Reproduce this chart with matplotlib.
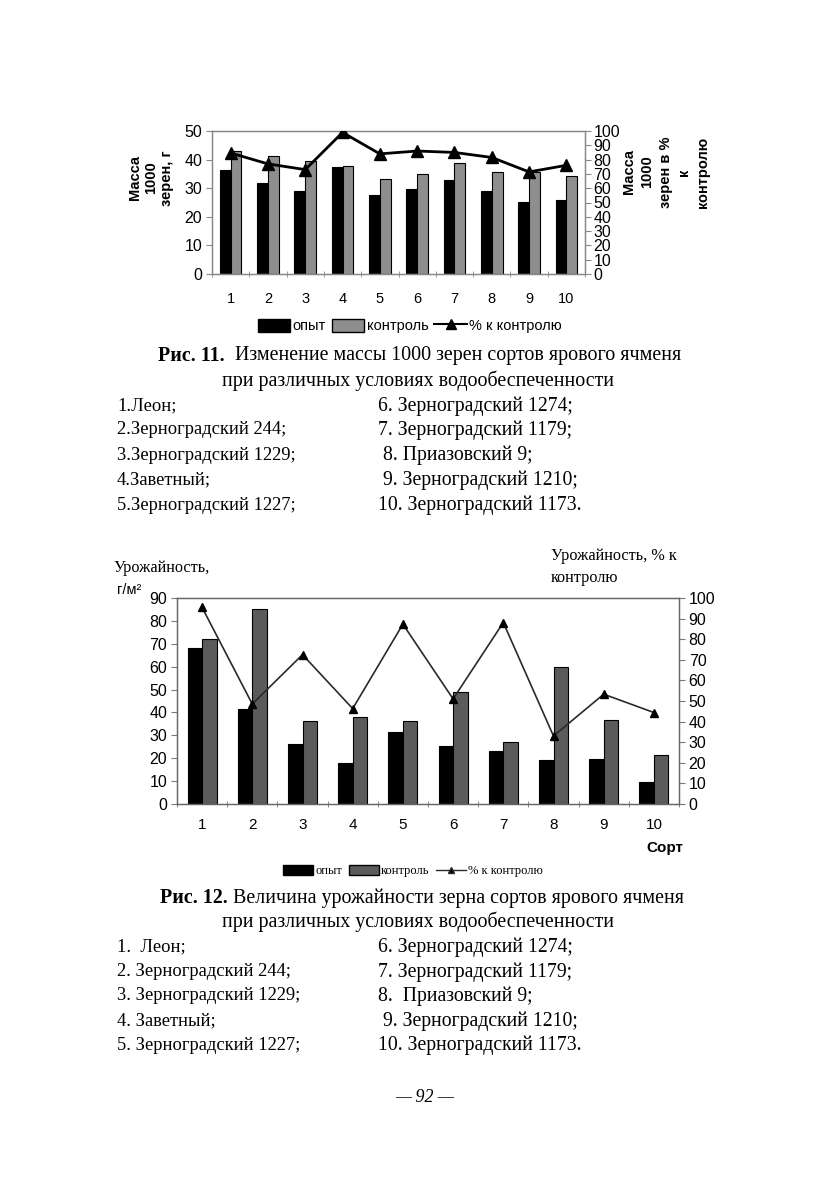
import numpy as np
import matplotlib.pyplot as plt
from matplotlib.lines import Line2D
from matplotlib.patches import Patch

W, H = 831, 1177

sorts = np.arange(1, 11)
tick_labels = [str(i) for i in sorts]

# Рис. 11 - масса 1000 зерен, г и % к контролю
mass_opyt = [36.2, 31.8, 29.0, 37.3, 27.5, 29.8, 32.8, 29.1, 25.3, 26.0]
mass_control = [42.9, 41.2, 39.6, 37.8, 33.2, 35.1, 38.9, 35.8, 35.7, 34.1]
mass_pct = [84.6, 77.0, 73.0, 99.0, 84.0, 86.0, 85.0, 81.5, 71.4, 76.0]

# Рис. 12 - урожайность, г/м2 и % к контролю
yield_opyt = [68.3, 41.3, 26.3, 17.9, 31.5, 25.3, 23.3, 19.3, 19.6, 9.5]
yield_control = [71.9, 85.3, 36.4, 37.8, 36.3, 49.0, 26.9, 59.7, 36.7, 21.2]
yield_pct = [95.4, 48.5, 72.5, 46.3, 87.3, 51.0, 88.1, 33.0, 53.3, 44.4]

list1_left = ["1.Леон;", "2.Зерноградский 244;", "3.Зерноградский 1229;",
              "4.Заветный;", "5.Зерноградский 1227;"]
list1_right = ["6. Зерноградский 1274;", "7. Зерноградский 1179;", " 8. Приазовский 9;",
               " 9. Зерноградский 1210;", "10. Зерноградский 1173."]
list2_left = ["1.  Леон;", "2. Зерноградский 244;", "3. Зерноградский 1229;",
              "4. Заветный;", "5. Зерноградский 1227;"]
list2_right = ["6. Зерноградский 1274;", "7. Зерноградский 1179;", "8.  Приазовский 9;",
               " 9. Зерноградский 1210;", "10. Зерноградский 1173."]

SANS = ['Liberation Sans', 'DejaVu Sans']
SERIF = ['Liberation Serif', 'DejaVu Serif']
plt.rcParams['font.family'] = SANS

CAP = 14.4   # caption size
LST_L = 13.3
LST_R = 14.2


def fx(x):
    return x / W


def fy(y):
    return 1 - y / H


def axes_px(fig, l, t, r, b):
    return fig.add_axes([l / W, 1 - b / H, (r - l) / W, (b - t) / H])


fig = plt.figure(figsize=(W / 100, H / 100), dpi=100)
bw = 0.29

# ---------- Рис. 11 ----------
ax1 = axes_px(fig, 212, 131, 585, 274)
ax1.bar(sorts - bw / 2, mass_opyt, bw, color='black', edgecolor='black', lw=0.8, zorder=2)
ax1.bar(sorts + bw / 2, mass_control, bw, color='#8e8e8e', edgecolor='black', lw=0.8, zorder=2)
ax1.set_xlim(0.5, 10.5)
ax1.set_ylim(0, 50)
ax1.set_yticks(range(0, 51, 10))
ax1.set_xticks(sorts)
ax1.set_xticklabels(tick_labels)
ax1.set_xticks(np.arange(0.5, 11, 1), minor=True)
ax1.tick_params(axis='x', which='major', length=0, pad=13, labelsize=10.5)
ax1.tick_params(axis='x', which='minor', length=5, direction='inout', color='#888888')
ax1.tick_params(axis='y', length=4, direction='out', color='#888888', labelsize=11.5, pad=3)
for s in ax1.spines.values():
    s.set_color('#888888')
    s.set_linewidth(1.0)

ax1r = ax1.twinx()
ax1r.plot(sorts, mass_pct, color='black', lw=2, marker='^', ms=8, zorder=3)
ax1r.set_ylim(0, 100)
ax1r.set_yticks(range(0, 101, 10))
ax1r.tick_params(axis='y', length=4, direction='out', color='#888888', labelsize=11.5, pad=2)
for s in ax1r.spines.values():
    s.set_color('#888888')

fig.text(fx(151), fy(178), "Масса\n1000\nзерен, г", rotation=90, ha='center', va='center',
         multialignment='center', fontsize=10.5, weight='bold', linespacing=1.15)
fig.text(fx(666), fy(172), "Масса\n1000\nзерен в %\nк\nконтролю", rotation=90, ha='center',
         va='center', multialignment='center', fontsize=10.5, weight='bold', linespacing=1.4)

h1 = [Patch(facecolor='black', edgecolor='black'),
      Patch(facecolor='#8e8e8e', edgecolor='black'),
      Line2D([], [], color='black', lw=1.5, marker='^', ms=7)]
fig.legend(h1, ['опыт', 'контроль', '% к контролю'], loc='center',
           bbox_to_anchor=(fx(410), fy(326)), ncol=3, frameon=False, fontsize=10.5,
           handlelength=2.2, handleheight=1.0, handletextpad=0.2, columnspacing=0.4)

# ---------- подпись 11 ----------
t = fig.text(fx(158), fy(356), "Рис. 11.", family=SERIF, fontsize=CAP, weight='bold', va='center')
ax1.annotate("  Изменение массы 1000 зерен сортов ярового ячменя", xy=(1, 0.5), xycoords=t,
             va='center', ha='left', family=SERIF, fontsize=CAP)
fig.text(fx(418), fy(381), "при различных условиях водообеспеченности", family=SERIF,
         fontsize=CAP, ha='center', va='center')

ys1 = [406, 430, 455, 480, 505]
for y, a, b in zip(ys1, list1_left, list1_right):
    fig.text(fx(117), fy(y), a, family=SERIF, fontsize=LST_L, va='center')
    fig.text(fx(378), fy(y), b, family=SERIF, fontsize=LST_R, va='center')

# ---------- Рис. 12 ----------
ax2 = axes_px(fig, 177, 598, 679, 804)
ax2.bar(sorts - bw / 2, yield_opyt, bw, color='black', edgecolor='black', lw=0.8, zorder=2)
ax2.bar(sorts + bw / 2, yield_control, bw, color='#5b5b5b', edgecolor='black', lw=0.8, zorder=2)
ax2.set_xlim(0.5, 10.5)
ax2.set_ylim(0, 90)
ax2.set_yticks(range(0, 91, 10))
ax2.set_xticks(sorts)
ax2.set_xticklabels(tick_labels)
ax2.set_xticks(np.arange(0.5, 11, 1), minor=True)
ax2.tick_params(axis='x', which='major', length=0, pad=10, labelsize=11)
ax2.tick_params(axis='x', which='minor', length=5, direction='inout', color='#777777')
ax2.tick_params(axis='y', length=4, direction='out', color='#777777', labelsize=11.5, pad=3)
for s in ax2.spines.values():
    s.set_color('#666666')
    s.set_linewidth(1.0)

ax2r = ax2.twinx()
ax2r.plot(sorts, yield_pct, color='#2a2a2a', lw=1.2, marker='^', ms=6,
          markerfacecolor='black', markeredgecolor='black', zorder=3)
ax2r.set_ylim(0, 100)
ax2r.set_yticks(range(0, 101, 10))
ax2r.tick_params(axis='y', length=4, direction='out', color='#777777', labelsize=11.5, pad=3)
for s in ax2r.spines.values():
    s.set_color('#666666')

fig.text(fx(113), fy(568), "Урожайность,", family=SERIF, fontsize=11.7, va='center')
fig.text(fx(117), fy(590), "г/м²", fontsize=10.5, va='center')
fig.text(fx(551), fy(556), "Урожайность, % к", family=SERIF, fontsize=11.7, va='center')
fig.text(fx(551), fy(578), "контролю", family=SERIF, fontsize=11.7, va='center')
fig.text(fx(683), fy(848), "Сорт", fontsize=11, weight='bold', ha='right', va='center')

h2 = [Patch(facecolor='black', edgecolor='black'),
      Patch(facecolor='#5b5b5b', edgecolor='black'),
      Line2D([], [], color='#2a2a2a', lw=1.0, marker='^', ms=5, markerfacecolor='black')]
fig.legend(h2, ['опыт', 'контроль', '% к контролю'], loc='center',
           bbox_to_anchor=(fx(413), fy(871)), ncol=3, frameon=False,
           prop={'family': SERIF, 'size': 9}, handlelength=2.4, handleheight=0.8,
           handletextpad=0.2, columnspacing=0.5)

# ---------- подпись 12 ----------
t2 = fig.text(fx(160), fy(898), "Рис. 12.", family=SERIF, fontsize=CAP, weight='bold', va='center')
ax2.annotate(" Величина урожайности зерна сортов ярового ячменя", xy=(1, 0.5), xycoords=t2,
             va='center', ha='left', family=SERIF, fontsize=CAP)
fig.text(fx(418), fy(922), "при различных условиях водообеспеченности", family=SERIF,
         fontsize=CAP, ha='center', va='center')

ys2 = [947, 972, 996, 1021, 1045]
for y, a, b in zip(ys2, list2_left, list2_right):
    fig.text(fx(117), fy(y), a, family=SERIF, fontsize=LST_L, va='center')
    fig.text(fx(378), fy(y), b, family=SERIF, fontsize=LST_R, va='center')

fig.text(fx(425), fy(1098), "— 92 —", family=SERIF, fontsize=13, style='italic',
         ha='center', va='center')

fig.savefig('out.png', dpi=100)
